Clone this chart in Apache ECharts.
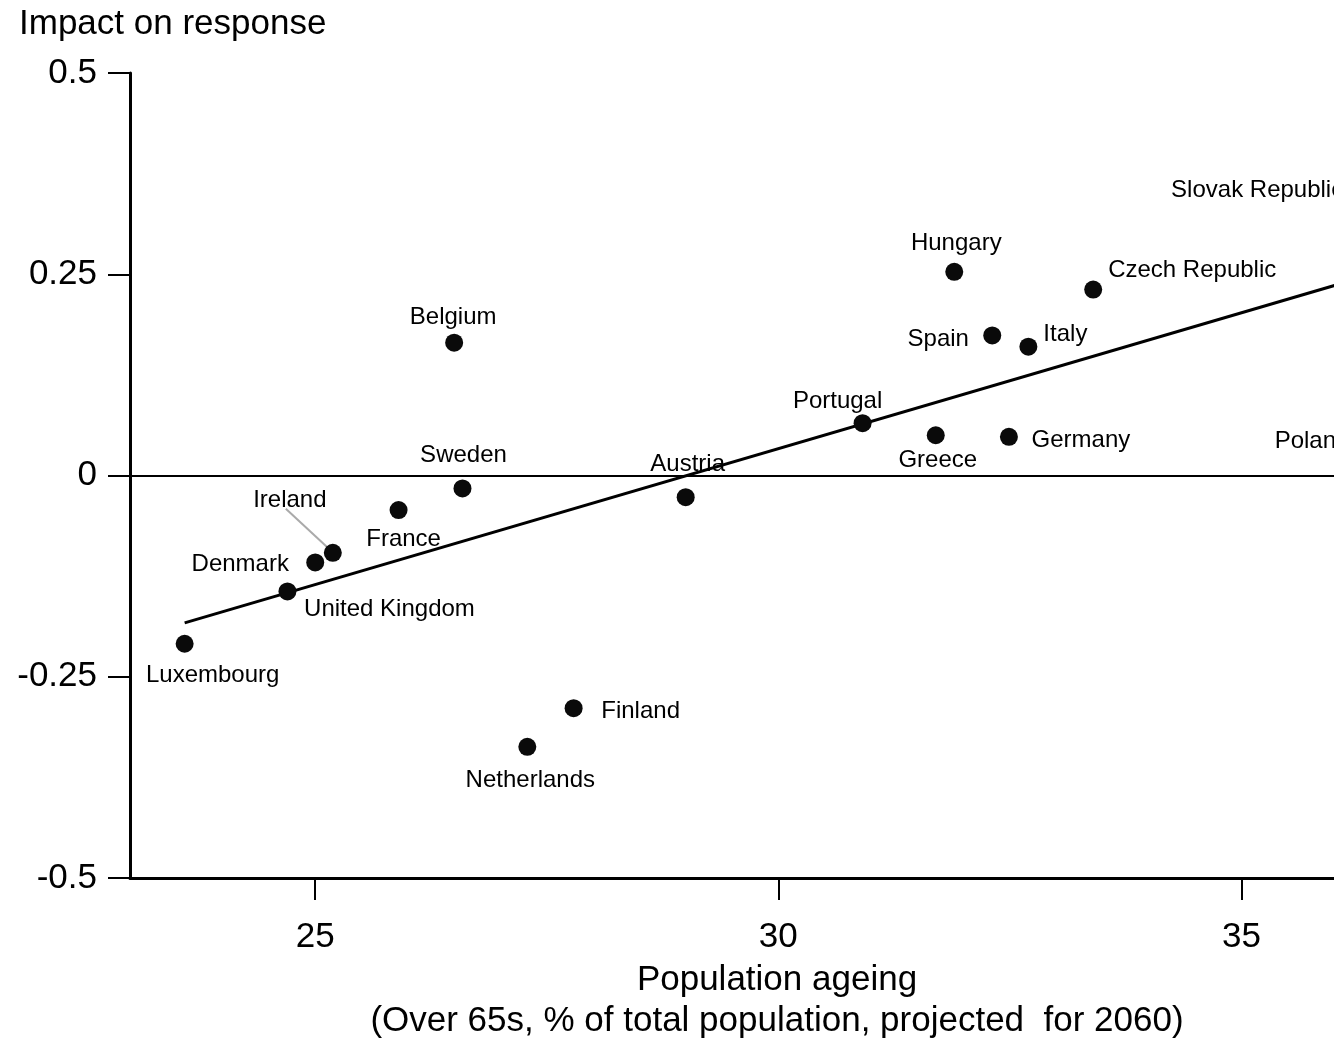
<!DOCTYPE html>
<html>
<head>
<meta charset="utf-8">
<style>
  html, body { margin: 0; padding: 0; background: #fff; }
  #chart { width: 1334px; height: 1044px; }
</style>
<script src="https://cdn.jsdelivr.net/npm/echarts@6/dist/echarts.min.js"></script>
</head>
<body>
<div id="chart"></div>
<script>
// ---- data ----
const countries = ['Luxembourg','United Kingdom','Denmark','Ireland','France','Sweden','Belgium','Austria','Portugal','Greece','Germany','Hungary','Spain','Italy','Czech Republic','Finland','Netherlands','Slovak Republic','Poland'];
const ageing = [23.59, 24.70, 25.00, 25.19, 25.90, 26.59, 26.50, 29.00, 30.91, 31.70, 32.49, 31.90, 32.31, 32.70, 33.40, 27.79, 27.29, 36.25, 36.27];
const impact = [-0.209, -0.144, -0.108, -0.096, -0.043, -0.016, 0.165, -0.027, 0.065, 0.050, 0.048, 0.253, 0.174, 0.160, 0.231, -0.289, -0.337, 0.354, 0.043];
const fitX = [23.59, 36.27];
const fitY = [-0.183, 0.245];
const xTicks = [25, 30, 35];
const yTicks = [-0.5, -0.25, 0, 0.25, 0.5];
const yTickLabels = ['-0.5', '-0.25', '0', '0.25', '0.5'];
const xTitle = 'Population ageing';
const xSubtitle = '(Over 65s, % of total population, projected  for 2060)';
const yTitle = 'Impact on response';

// ---- label placement (pixel offsets of label centre from point centre) ----
const labelOffsets = {
  'Luxembourg': [28, 32], 'United Kingdom': [102, 18], 'Denmark': [-75, 2],
  'Ireland': [-43, -52], 'France': [5, 29], 'Sweden': [1, -33], 'Belgium': [-1, -25],
  'Austria': [2, -33], 'Portugal': [-25, -22], 'Greece': [2, 25], 'Germany': [72, 4],
  'Hungary': [2, -28], 'Spain': [-54, 4], 'Italy': [37, -12], 'Czech Republic': [99, -19],
  'Finland': [67, 3], 'Netherlands': [3, 34], 'Slovak Republic': [-100, 0], 'Poland': [-47, 0]
};
const SYM = 18;
const FONT = '"Liberation Sans", Arial, Helvetica, sans-serif';
const irelandIdx = countries.indexOf('Ireland');

const scatterData = countries.map((c, i) => {
  const off = labelOffsets[c];
  return {
    name: c,
    value: [ageing[i], impact[i]],
    label: { position: [SYM / 2 + off[0], SYM / 2 + off[1]] }
  };
});

const chart = echarts.init(document.getElementById('chart'), null, { renderer: 'canvas' });
chart.setOption({
  animation: false,
  backgroundColor: '#ffffff',
  textStyle: { fontFamily: FONT },
  title: {
    text: yTitle,
    left: 14, top: 2,
    textStyle: { fontFamily: FONT, fontSize: 35, fontWeight: 'normal', color: '#000' }
  },
  graphic: [
    { id: 'xTitle', type: 'text', x: 777, y: 980, silent: true,
      style: { text: xTitle, fontFamily: FONT, fontSize: 35, fill: '#000', align: 'center', verticalAlign: 'middle' } },
    { id: 'xSub', type: 'text', x: 777, y: 1021, silent: true,
      style: { text: xSubtitle, fontFamily: FONT, fontSize: 35, fill: '#000', align: 'center', verticalAlign: 'middle' } }
  ],
  grid: { left: 130, top: 73, right: 0, bottom: 166, containLabel: false },
  xAxis: {
    type: 'value', min: 23, max: 36,
    axisLine: { show: true, onZero: false, lineStyle: { color: '#000', width: 3 } },
    axisTick: { show: true, inside: false, length: 22, customValues: xTicks, lineStyle: { color: '#000', width: 2 } },
    axisLabel: { show: true, margin: 42, customValues: xTicks, fontFamily: FONT, fontSize: 35, color: '#000' },
    splitLine: { show: false }
  },
  yAxis: {
    type: 'value', min: -0.5, max: 0.5,
    axisLine: { show: true, onZero: false, lineStyle: { color: '#000', width: 3 } },
    axisTick: { show: true, inside: false, length: 22, customValues: yTicks, lineStyle: { color: '#000', width: 2 } },
    axisLabel: {
      show: true, margin: 33, customValues: yTicks, fontFamily: FONT, fontSize: 35, color: '#000',
      formatter: v => yTickLabels[yTicks.indexOf(v)] !== undefined ? yTickLabels[yTicks.indexOf(v)] : String(v)
    },
    splitLine: { show: false }
  },
  series: [
    {
      type: 'line',
      data: fitX.map((x, i) => [x, fitY[i]]),
      symbol: 'none',
      clip: false,
      lineStyle: { color: '#000', width: 3 },
      z: 2,
      markLine: {
        silent: true, symbol: ['none', 'none'], label: { show: false },
        lineStyle: { color: '#000', width: 2, type: 'solid' },
        data: [{ yAxis: 0 }]
      }
    },
    {
      type: 'scatter',
      data: scatterData,
      symbol: 'circle',
      symbolSize: SYM,
      clip: false,
      itemStyle: { color: '#0a0a0a', opacity: 1 },
      z: 3,
      label: {
        show: true,
        formatter: '{b}',
        align: 'center', verticalAlign: 'middle',
        fontFamily: FONT, fontSize: 24, color: '#000', opacity: 1
      }
    }
  ]
});

// leader line for Ireland, derived from its data point and label offset
const ip = chart.convertToPixel({ gridIndex: 0 }, [ageing[irelandIdx], impact[irelandIdx]]);
const io = labelOffsets['Ireland'];
chart.setOption({
  graphic: [{
    id: 'irelandLeader', type: 'line', silent: true, z: 1,
    shape: { x1: ip[0] + io[0] - 4, y1: ip[1] + io[1] + 8, x2: ip[0] - 5, y2: ip[1] - 5 },
    style: { stroke: '#aaaaaa', lineWidth: 2 }
  }]
});
</script>
</body>
</html>
